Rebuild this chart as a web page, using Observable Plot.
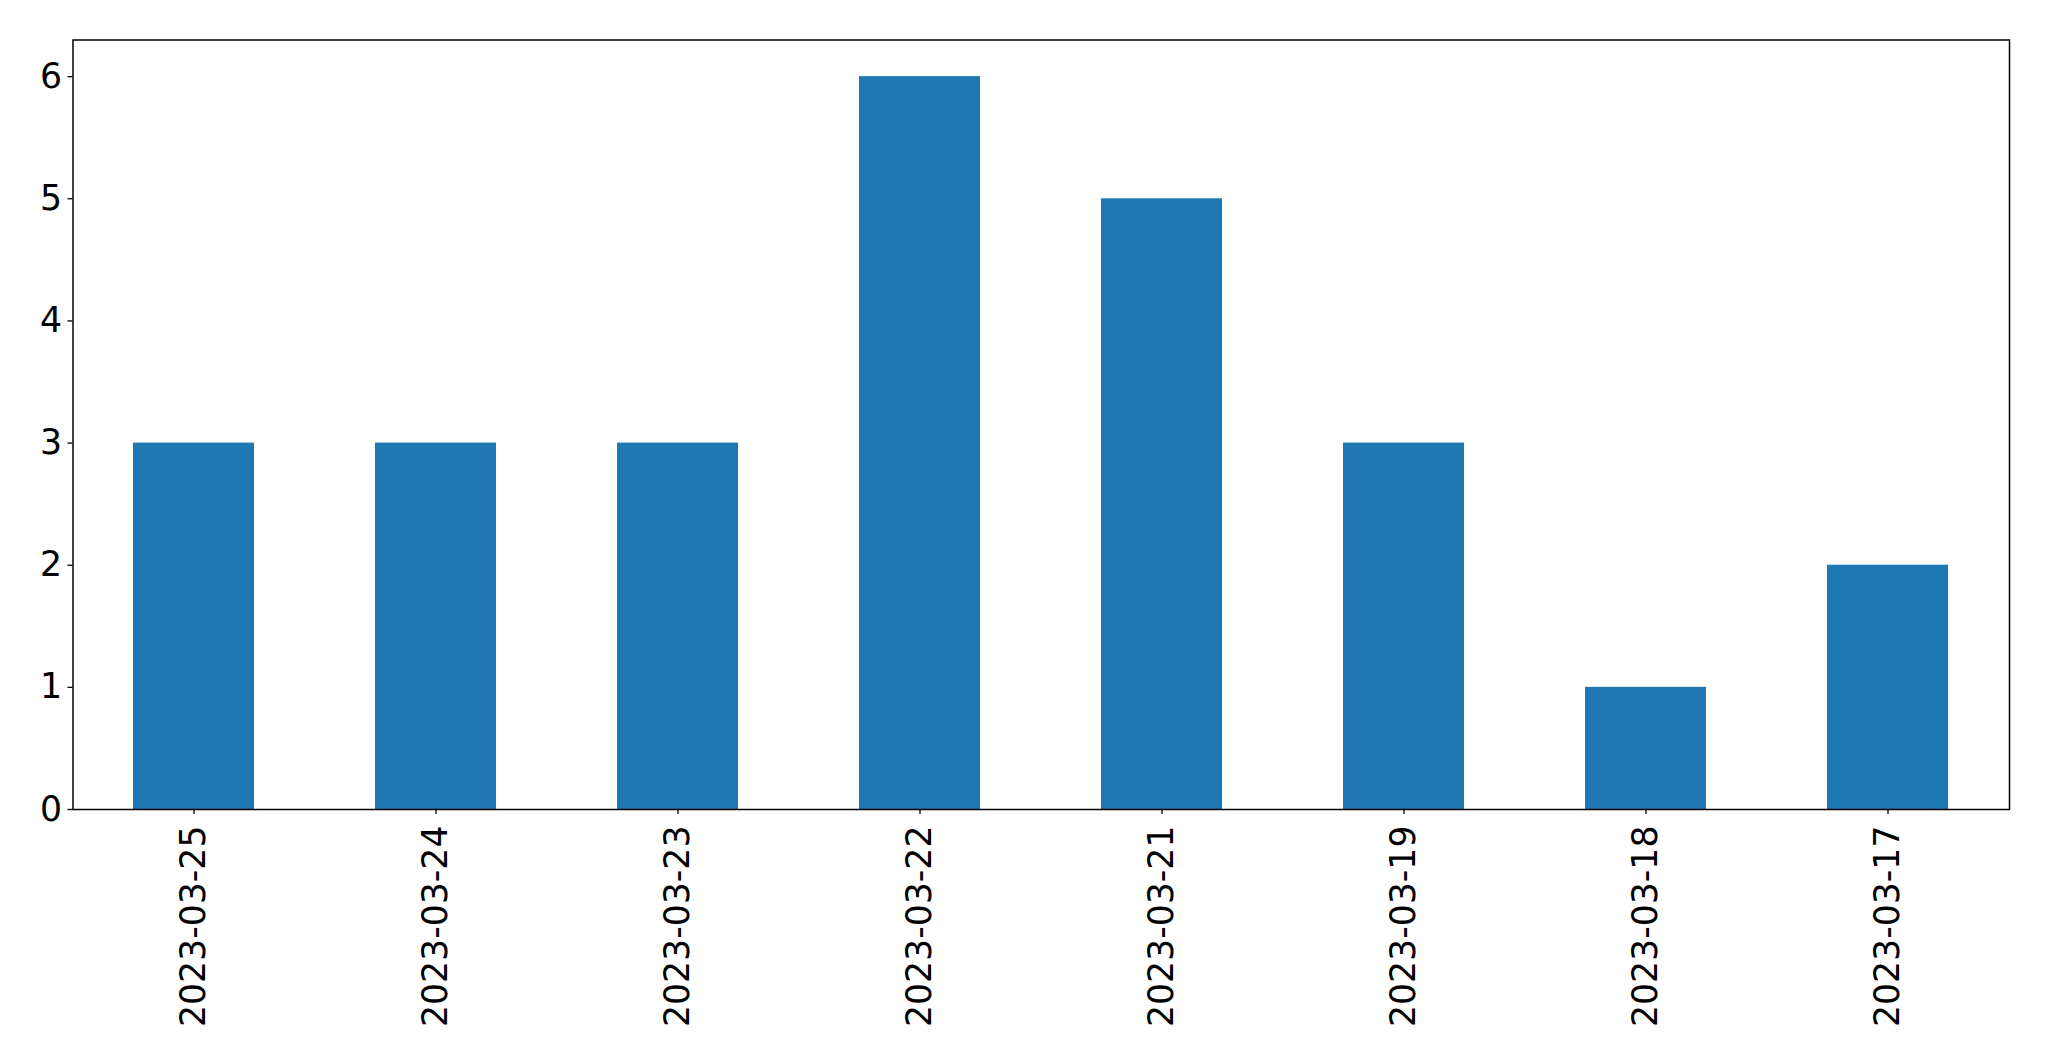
<!DOCTYPE html>
<html>
<head>
<meta charset="utf-8">
<script src="https://cdn.jsdelivr.net/npm/d3@7"></script>
<script src="https://cdn.jsdelivr.net/npm/@observablehq/plot@0.6"></script>
<style>
  html, body { margin: 0; padding: 0; background: #fff; }
  svg { display: block; }
</style>
</head>
<body>
<div id="chart"></div>
<script>
const dates = ["2023-03-25", "2023-03-24", "2023-03-23", "2023-03-22", "2023-03-21", "2023-03-19", "2023-03-18", "2023-03-17"];
const counts = [3, 3, 3, 6, 5, 3, 1, 2];
const yTicks = [0, 1, 2, 3, 4, 5, 6];

const data = dates.map((d, i) => ({date: d, count: counts[i]}));

const chart = Plot.plot({
  width: 2049,
  height: 1061,
  marginLeft: 72.5,
  marginRight: 40,
  marginTop: 39.5,
  marginBottom: 252,
  style: {fontFamily: "DejaVu Sans", fontSize: "34.7px", color: "#000", background: "#fff"},
  x: {domain: dates, paddingInner: 0.5, paddingOuter: 0.25, align: 0.5},
  y: {domain: [0, 6.3]},
  marks: [
    Plot.barY(data, {x: "date", y: "count", fill: "#1f77b4"}),
    Plot.axisY({ticks: yTicks, tickFormat: d3.format("d"), tickSize: 5, tickPadding: 6, label: null, fontSize: 34.7, stroke: "#000", strokeWidth: 1.3}),
    Plot.axisX({tickSize: 5, tickPadding: 11, tickRotate: -90, label: null, fontSize: 34.7, stroke: "#000", strokeWidth: 1.3}),
    Plot.frame({stroke: "#000", strokeWidth: 1.5})
  ]
});
document.getElementById("chart").appendChild(chart);
</script>
</body>
</html>
